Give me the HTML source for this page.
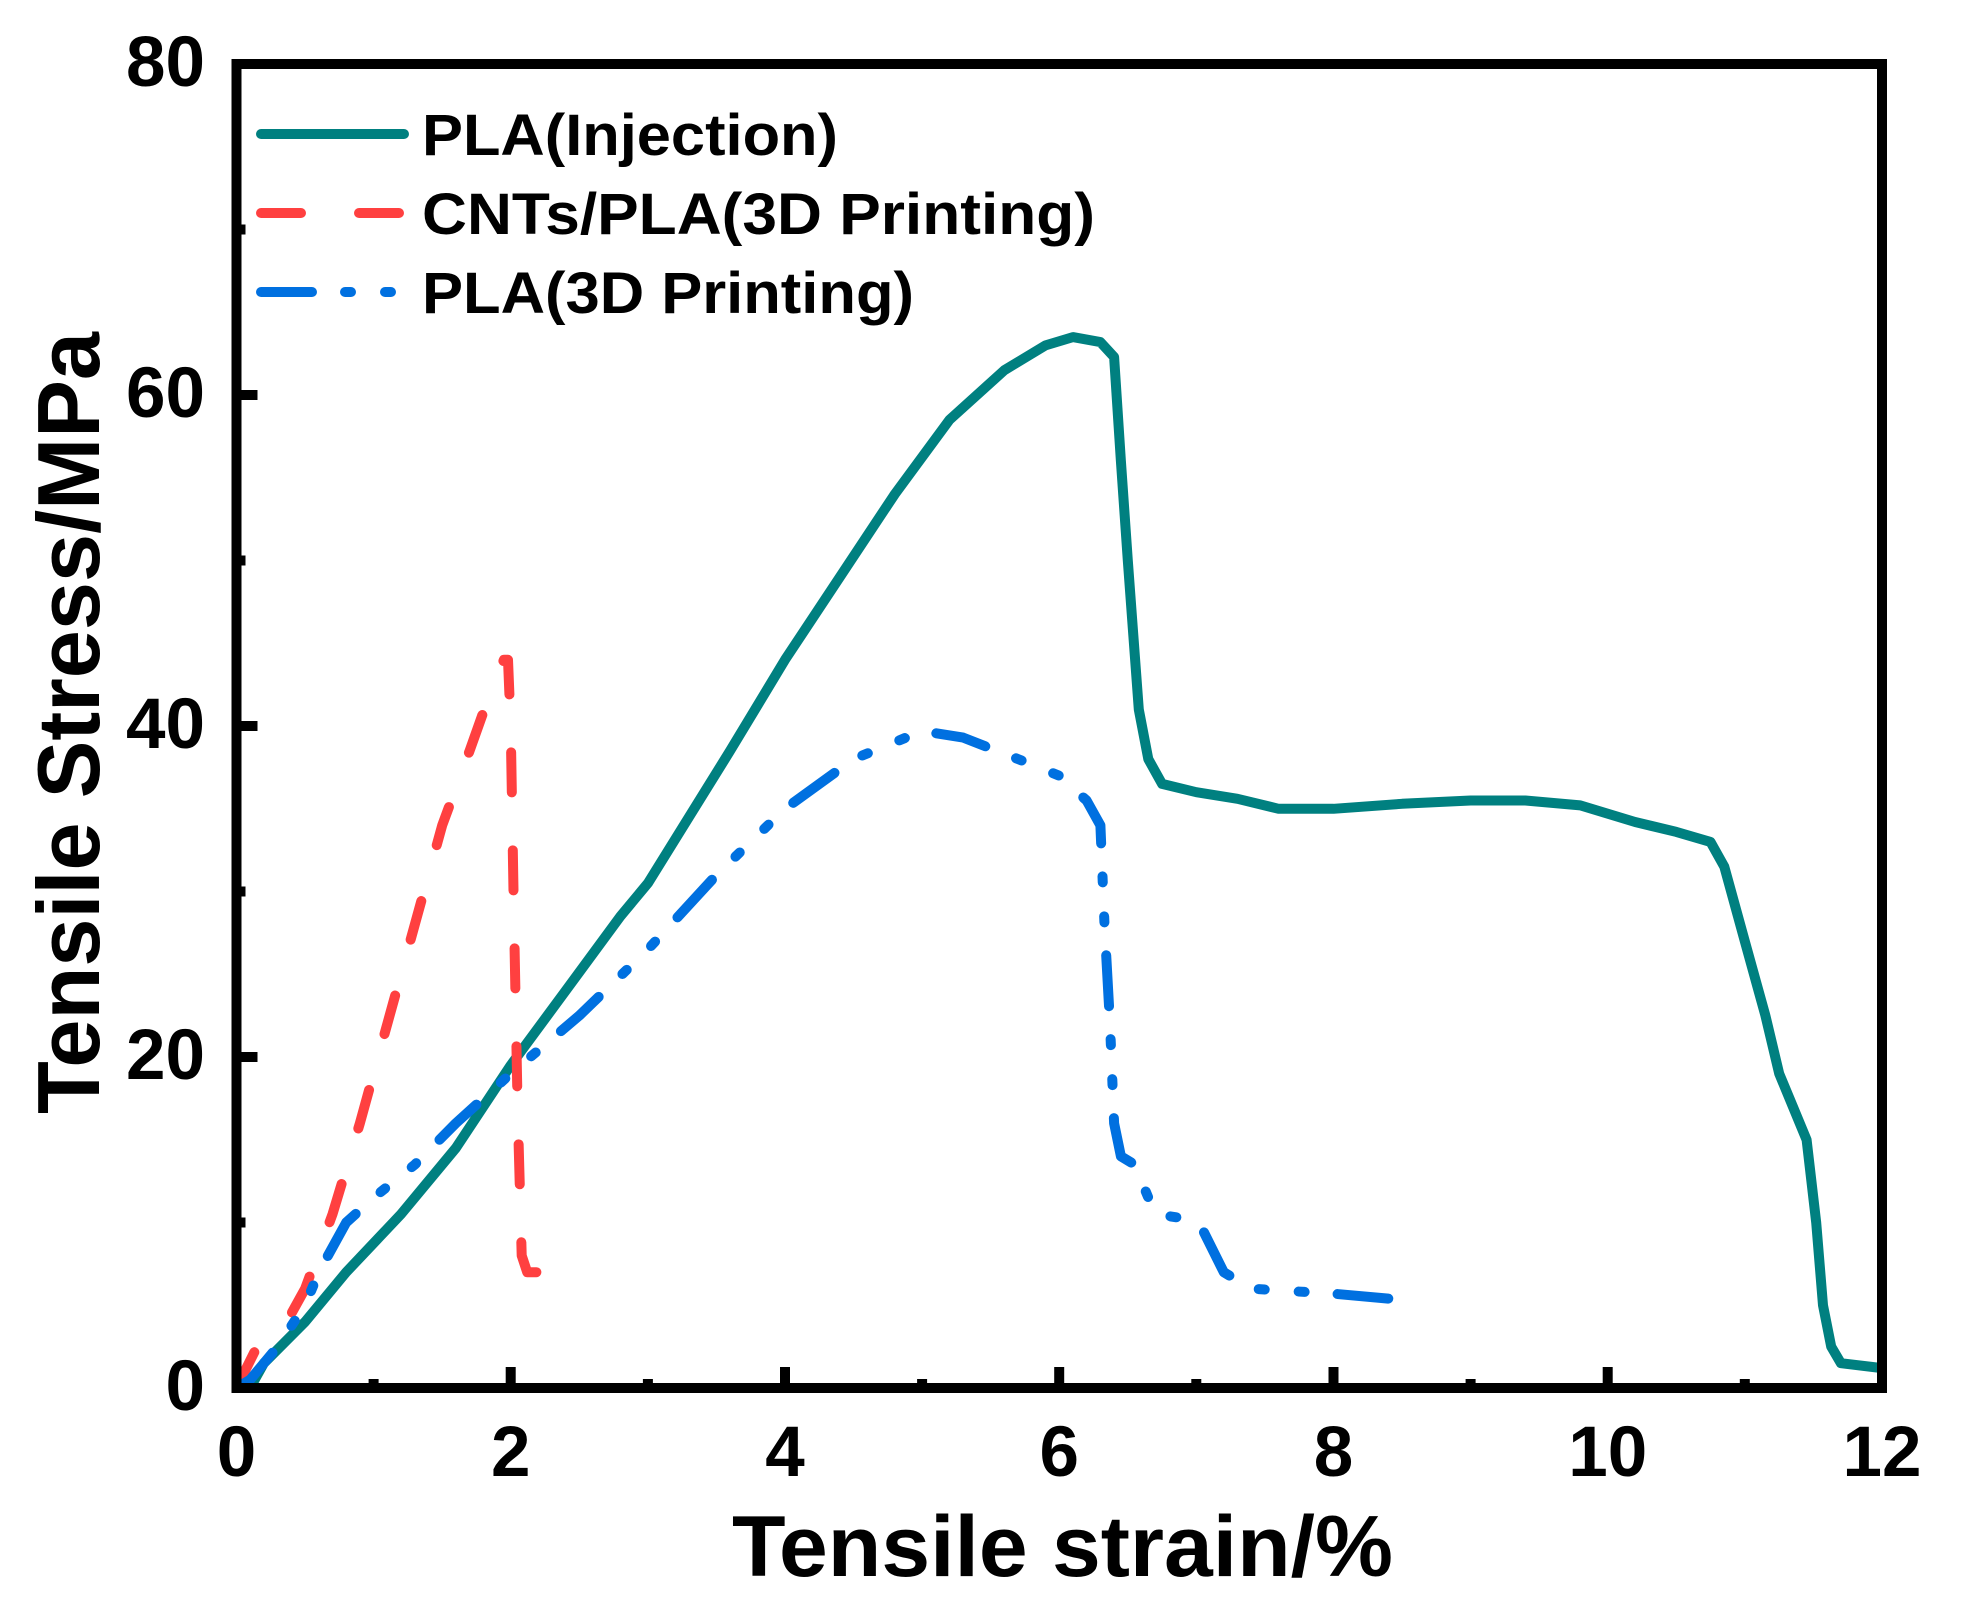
<!DOCTYPE html>
<html><head><meta charset="utf-8"><style>html,body{margin:0;padding:0;background:#fff}svg{display:block}text{font-family:"Liberation Sans",Arial,sans-serif;font-weight:bold;fill:#000}</style></head>
<body>
<svg width="1982" height="1615" viewBox="0 0 1982 1615" xmlns="http://www.w3.org/2000/svg">
<g fill="none" stroke-linejoin="round" stroke-width="10">
<polyline stroke="#008080" stroke-linecap="round" points="250,1388 263.9,1363.2 305.1,1321.8 346.2,1272.2 401,1214.2 455.9,1148 510.7,1065.3 565.6,990.8 620.4,916.3 647.9,883.2 689,817 730.1,750.8 785,659.8 839.8,577.1 894.7,494.3 949.5,419.8 1004.4,370.2 1045.5,345.4 1072.9,337.1 1100.4,342.1 1114.1,357 1120.9,461.2 1127.8,560.5 1138.8,709.5 1148.3,759.1 1162.1,783.9 1196.3,792.2 1237.5,798.8 1278.6,808.8 1333.5,808.8 1402,803.8 1470.6,800.5 1525.4,800.5 1580.3,805.4 1635.1,822 1676.3,831.9 1710.5,841.9 1724.3,866.7 1744.8,941.2 1765.4,1015.6 1779.2,1073.6 1792.9,1106.7 1806.6,1139.8 1816.2,1222.5 1823,1305.3 1831.2,1346.6 1840.9,1363.2 1882,1368.1"/>
<polyline stroke="#FF4040" stroke-linecap="round" stroke-dasharray="40 58" points="236.5,1388 257.1,1346.6 277.6,1338.4 305.1,1288.7 332.5,1214.2 359.9,1123.2 387.3,1023.9 414.8,924.6 442.2,825.3 469.6,750.8 490.2,692.9 503.9,659.8 508,659.8 510.7,726 513.5,891.5 517.6,1106.7 521.7,1255.6 527.2,1272.2 538.2,1272.2"/>
<polyline stroke="#0070E0" stroke-linecap="round" stroke-dasharray="51 33 6 34 6 33" points="236.5,1388 250.2,1379.7 277.6,1346.6 305.1,1305.3 318.8,1272.2 346.2,1222.5 373.6,1197.7 414.8,1164.6 455.9,1123.2 510.7,1073.6 579.3,1015.6 647.9,949.4 716.4,875 785,808.8 853.5,759.1 922.1,731 963.2,737.6 1018.1,759.1 1059.2,775.7 1086.6,800.5 1100.4,825.3 1104.5,924.6 1110,1023.9 1114.1,1123.2 1120.9,1156.3 1134.6,1164.6 1155.2,1214.2 1189.5,1219.2 1203.2,1230.8 1223.8,1272.2 1251.2,1288.7 1306,1292 1333.5,1293.7 1388.3,1298.6"/>
<line x1="261" y1="134" x2="404" y2="134" stroke="#008080" stroke-linecap="round"/>
<line x1="261" y1="213" x2="404" y2="213" stroke="#FF4040" stroke-linecap="round" stroke-dasharray="40 58"/>
<line x1="261" y1="292" x2="404" y2="292" stroke="#0070E0" stroke-linecap="round" stroke-dasharray="51 33 6 34 6 33"/>
</g>
<g stroke="#000" stroke-width="10" fill="none">
<rect x="236.5" y="64" width="1645.5" height="1324"/>
<path d="M510.7,1388v-21 M785,1388v-21 M1059.2,1388v-21 M1333.5,1388v-21 M1607.7,1388v-21 M373.6,1388v-9 M647.9,1388v-9 M922.1,1388v-9 M1196.3,1388v-9 M1470.6,1388v-9 M1744.8,1388v-9 M236.5,1057h21 M236.5,726h21 M236.5,395h21 M236.5,1222.5h9 M236.5,891.5h9 M236.5,560.5h9 M236.5,229.5h9"/>
</g>
<g font-size="71" text-anchor="end">
<text x="205" y="1410">0</text><text x="205" y="1079">20</text><text x="205" y="748">40</text><text x="205" y="417">60</text><text x="205" y="86">80</text>
</g>
<g font-size="71" text-anchor="middle">
<text x="236.5" y="1476">0</text><text x="510.7" y="1476">2</text><text x="785" y="1476">4</text><text x="1059.2" y="1476">6</text><text x="1333.5" y="1476">8</text><text x="1607.7" y="1476">10</text><text x="1882" y="1476">12</text>
</g>
<text x="732" y="1576" font-size="86" textLength="661" lengthAdjust="spacingAndGlyphs">Tensile strain/%</text>
<text transform="translate(99,1114) rotate(-90)" font-size="88" textLength="782" lengthAdjust="spacingAndGlyphs">Tensile Stress/MPa</text>
<g font-size="58">
<text x="422" y="155" textLength="416" lengthAdjust="spacingAndGlyphs">PLA(Injection)</text>
<text x="422" y="234" textLength="673" lengthAdjust="spacingAndGlyphs">CNTs/PLA(3D Printing)</text>
<text x="422" y="313" textLength="492" lengthAdjust="spacingAndGlyphs">PLA(3D Printing)</text>
</g>
</svg>
</body></html>
